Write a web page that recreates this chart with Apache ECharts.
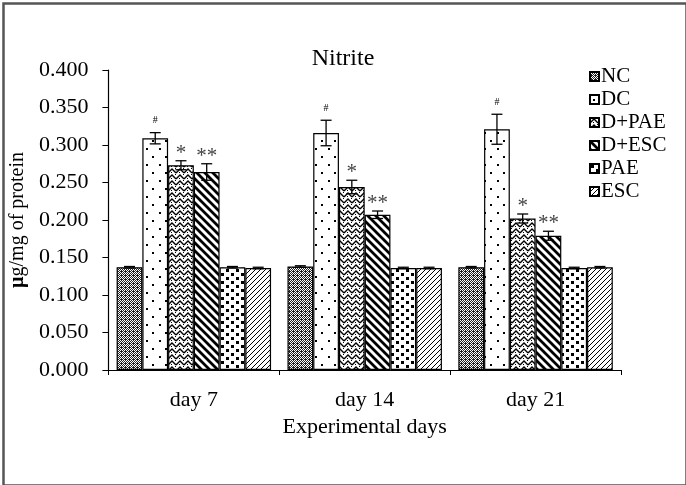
<!DOCTYPE html>
<html>
<head>
<meta charset="utf-8">
<script src="https://cdn.jsdelivr.net/npm/echarts@6/dist/echarts.min.js"></script>
<style>
html,body{margin:0;padding:0;background:#fff;}
#chart{width:686px;height:485px;}
</style>
</head>
<body>
<div id="chart"></div>
<script>
// ---- data ----
const categories = ['day 7', 'day 14', 'day 21'];
const seriesNames = ['NC', 'DC', 'D+PAE', 'D+ESC', 'PAE', 'ESC'];
const NC   = [0.137, 0.138, 0.137];
const DC   = [0.309, 0.316, 0.321];
const DPAE = [0.273, 0.244, 0.202];
const DESC = [0.264, 0.207, 0.179];
const PAE  = [0.137, 0.136, 0.136];
const ESC  = [0.136, 0.136, 0.137];
const errNC   = [0.001, 0.001, 0.001];
const errDC   = [0.0075, 0.017, 0.020];
const errDPAE = [0.006, 0.009, 0.006];
const errDESC = [0.011, 0.005, 0.006];
const errPAE  = [0.001, 0.001, 0.001];
const errESC  = [0.001, 0.001, 0.001];
const markDC   = ['#', '#', '#'];
const markDPAE = ['*', '*', '*'];
const markDESC = ['**', '**', '**'];
const yTicks = [0, 0.05, 0.1, 0.15, 0.2, 0.25, 0.3, 0.35, 0.4];

// ---- patterns ----
function tile(w, h, draw) {
  const c = document.createElement('canvas');
  c.width = w; c.height = h;
  const g = c.getContext('2d');
  g.fillStyle = '#fff'; g.fillRect(0, 0, w, h);
  draw(g, w, h);
  return { image: c, repeat: 'repeat' };
}
const patNC = tile(4, 4, (g) => {
  g.fillStyle = '#222';
  g.fillRect(0,0,4,4);
  g.fillStyle = '#fff';
  g.fillRect(0,0,1,1); g.fillRect(2,0,1,1); g.fillRect(1,1,1,1); g.fillRect(3,1,1,1);
  g.fillRect(0,2,1,1); g.fillRect(2,2,1,1); g.fillRect(3,3,1,1);
});
const patDC = tile(13, 16, (g) => {
  g.fillStyle = '#000';
  g.fillRect(3, 4, 2, 2);
  g.fillRect(9, 12, 2, 2);
});
const patDPAE = tile(8, 6, (g) => {
  g.strokeStyle = '#000'; g.lineWidth = 1.4;
  g.beginPath();
  g.moveTo(0, 5); g.lineTo(4, 1); g.lineTo(8, 5);
  g.stroke();
  g.fillStyle = '#000';
  g.fillRect(3, 4, 1, 1); g.fillRect(7, 0, 1, 1);
});
const patDESC = tile(8, 8, (g) => {
  g.strokeStyle = '#000'; g.lineWidth = 2.8;
  g.beginPath();
  g.moveTo(-1, -1); g.lineTo(9, 9);
  g.moveTo(-5, 3); g.lineTo(1, 9);
  g.moveTo(3, -5); g.lineTo(9, 1);
  g.stroke();
});
const patPAE = tile(10, 8, (g) => {
  g.fillStyle = '#000';
  g.fillRect(1, 1, 3, 3);
  g.fillRect(6, 5, 3, 3);
});
const patESC = tile(5, 5, (g) => {
  g.strokeStyle = '#000'; g.lineWidth = 1;
  g.beginPath();
  g.moveTo(0, 5); g.lineTo(5, 0);
  g.moveTo(-2, 2); g.lineTo(2, -2);
  g.moveTo(3, 7); g.lineTo(7, 3);
  g.stroke();
});
const patterns = [patNC, patDC, patDPAE, patDESC, patPAE, patESC];
const values = [NC, DC, DPAE, DESC, PAE, ESC];
const errs = [errNC, errDC, errDPAE, errDESC, errPAE, errESC];
const marks = [null, markDC, markDPAE, markDESC, null, null];

const GAP = 0.096;
const FONT = '"Liberation Serif", "Times New Roman", serif';

const bars = seriesNames.map((n, i) => ({
  name: n, type: 'bar', data: values[i],
  barGap: '0%', barCategoryGap: (GAP * 100) + '%',
  itemStyle: { color: patterns[i], borderColor: '#000', borderWidth: 1.2 },
  emphasis: { disabled: true }
}));

function errSeries(i) {
  const mk = marks[i];
  return {
    type: 'custom', z: 10, silent: true,
    data: values[i].map((v, k) => [k, v, errs[i][k]]),
    renderItem: function (params, api) {
      const ci = api.value(0), v = api.value(1), e = api.value(2);
      const c = api.coord([ci, v]);
      const catW = api.size([1, 0])[0];
      const barW = catW * (1 - GAP) / 6;
      const x = c[0] + (i - 2.5) * barW;
      const top = api.coord([ci, v + e])[1];
      const bot = api.coord([ci, v - e])[1];
      const cap = 5.5;
      const st = { stroke: '#000', lineWidth: 1.3 };
      const ch = [
        { type: 'line', shape: { x1: x, y1: top, x2: x, y2: bot }, style: st },
        { type: 'line', shape: { x1: x - cap, y1: top, x2: x + cap, y2: top }, style: st },
        { type: 'line', shape: { x1: x - cap, y1: bot, x2: x + cap, y2: bot }, style: st }
      ];
      if (mk) {
        const isHash = mk[ci] === '#';
        ch.push({
          type: 'text',
          style: {
            text: mk[ci], x: x, y: top - (isHash ? 7 : -3),
            align: 'center', verticalAlign: 'bottom',
            fill: isHash ? '#000' : '#444',
            font: (isHash ? '10px ' : '21px ') + FONT
          }
        });
      }
      return { type: 'group', children: ch };
    }
  };
}

const chart = echarts.init(document.getElementById('chart'), null, { renderer: 'canvas' });
chart.setOption({
  animation: false,
  backgroundColor: '#fff',
  textStyle: { fontFamily: FONT, color: '#000' },
  title: {
    text: 'Nitrite', left: 'center', top: 42,
    textStyle: { fontFamily: FONT, fontSize: 24, fontWeight: 'normal', color: '#000' }
  },
  legend: {
    data: seriesNames, orient: 'vertical', left: 584, top: 61,
    itemWidth: 9, itemHeight: 9, itemGap: 2,
    icon: 'rect',
    textStyle: { fontFamily: FONT, fontSize: 21, color: '#000', padding: [0, 0, 0, -3] },
    selectedMode: false
  },
  grid: { left: 103.5, right: 65, top: 70, bottom: 115 },
  xAxis: {
    type: 'category', data: categories,
    axisLine: { lineStyle: { color: '#000', width: 1.2 } },
    axisTick: { show: true, alignWithLabel: false, length: 5, lineStyle: { color: '#000' } },
    axisLabel: { fontFamily: FONT, fontSize: 22, color: '#000', margin: 19 },
    name: 'Experimental days', nameLocation: 'middle', nameGap: 46,
    nameTextStyle: { fontFamily: FONT, fontSize: 22, color: '#000' }
  },
  yAxis: {
    type: 'value', min: yTicks[0], max: yTicks[yTicks.length - 1], interval: yTicks[1] - yTicks[0],
    splitLine: { show: false },
    axisLine: { show: true, lineStyle: { color: '#000', width: 1.2 } },
    axisTick: { show: true, length: 6, lineStyle: { color: '#000' } },
    axisLabel: { fontFamily: FONT, fontSize: 22, color: '#000', margin: 20,
      formatter: (v) => v.toFixed(3) },
    name: '{b|µ}g/mg of protein', nameLocation: 'middle', nameGap: 72, nameRotate: 90,
    nameTextStyle: { fontFamily: FONT, fontSize: 20, color: '#000',
      rich: { b: { fontFamily: FONT, fontSize: 20, fontWeight: 'bold', color: '#000' } } }
  },
  graphic: [{
    type: 'rect', left: 1, top: 1, silent: true,
    shape: { width: 683, height: 482 },
    style: { fill: 'none', stroke: '#555', lineWidth: 2.5 }
  }],
  series: bars.concat(seriesNames.map((n, i) => errSeries(i)))
});
</script>
</body>
</html>
